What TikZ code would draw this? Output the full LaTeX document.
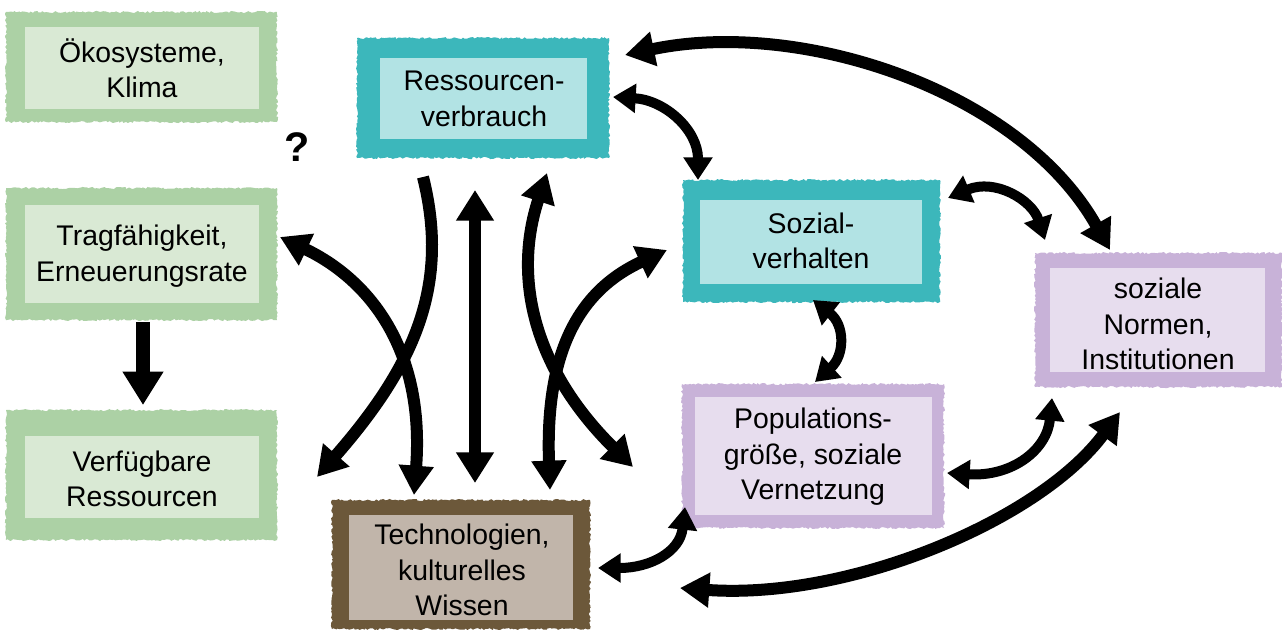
\documentclass[tikz,border=0pt]{standalone}
\usepackage{fontspec}
\setmainfont{Liberation Sans}
\usetikzlibrary{arrows.meta,fit,decorations.pathmorphing}

\definecolor{grOut}{HTML}{ACD1A5}
\definecolor{grIn}{HTML}{D9E9D4}
\definecolor{tlOut}{HTML}{3CB7BB}
\definecolor{tlIn}{HTML}{B2E3E4}
\definecolor{ppOut}{HTML}{C8B2D8}
\definecolor{ppIn}{HTML}{E7DDEE}
\definecolor{brOut}{HTML}{6C583A}
\definecolor{brIn}{HTML}{C1B5AA}

\tikzset{
  outerbox/.style={inner sep=0pt, fill=#1, decorate,
    decoration={random steps, segment length=1.5pt, amplitude=0.8pt}},
  innerbox/.style={inner sep=0pt, fill=#1},
  txt/.style={inner sep=0pt, font=\fontsize{21.3}{26.6}\selectfont,
    align=center, text=black},
  link/.style={line width=9pt, black,
    arrows={-Triangle[length=22pt, width=25pt]}},
  linkboth/.style={link, arrows={Triangle[length=22pt, width=25pt]-Triangle[length=22pt, width=25pt]}},
  linksmall/.style={line width=7.5pt, black,
    arrows={Triangle[length=17pt, width=21pt]-Triangle[length=17pt, width=21pt]}},
}

\begin{document}
\begin{tikzpicture}[x=0.75pt, y=-0.75pt]
\useasboundingbox (0,0) rectangle (1282,629);

% boxes: textured frame, inner panel, centred label
\node[outerbox=grOut, fit={(6,12)(277,122)}] (eco) {};
\node[innerbox=grIn, fit={(25,27)(259,109)}] (ecoIn) {};
\node[txt] (ecoT) at (142,68) {Ökosysteme,\\Klima};

\node[outerbox=grOut, fit={(6,188)(277,320)}] (trag) {};
\node[innerbox=grIn, fit={(25,205)(259,303)}] (tragIn) {};
\node[txt] (tragT) at (142,256) {Tragfähigkeit,\\Erneuerungsrate};

\node[outerbox=grOut, fit={(6,410)(277,540)}] (verf) {};
\node[innerbox=grIn, fit={(25,436)(259,518)}] (verfIn) {};
\node[txt] (verfT) at (142,479) {Verfügbare\\Ressourcen};

\node[outerbox=tlOut, fit={(357,38)(609,158)}] (ress) {};
\node[innerbox=tlIn, fit={(380,58)(587,139)}] (ressIn) {};
\node[txt] (ressT) at (484,99) {Ressourcen-\\verbrauch};

\node[outerbox=tlOut, fit={(683,180)(940,302)}] (sozv) {};
\node[innerbox=tlIn, fit={(700,200)(922,284)}] (sozvIn) {};
\node[txt] (sozvT) at (811,241) {Sozial-\\verhalten};

\node[outerbox=ppOut, fit={(682,384)(944,528)}] (pop) {};
\node[innerbox=ppIn, fit={(695,397)(932,515)}] (popIn) {};
\node[txt] (popT) at (813,457) {Populations-\\größe, soziale\\Vernetzung};

\node[outerbox=ppOut, fit={(1035,253)(1282,387)}] (norm) {};
\node[innerbox=ppIn, fit={(1050,268)(1265,372)}] (normIn) {};
\node[txt] (normT) at (1158,324) {soziale\\Normen,\\Institutionen};

\node[outerbox=brOut, fit={(332,500)(590,629)}] (tech) {};
\node[innerbox=brIn, fit={(349,515)(573,620)}] (techIn) {};
\node[txt] (techT) at (462,570) {Technologien,\\kulturelles\\Wissen};

\node[font=\bfseries\fontsize{31}{34}\selectfont] (q) at (297,147) {?};

% connector end points
\coordinate (tragS) at (143,322);
\coordinate (verfN) at (143,405);
\coordinate (midN) at (475,190);
\coordinate (midS) at (475,483);
\coordinate (tragE) at (280,237);
\coordinate (techNW) at (414,495);
\coordinate (ressSW) at (423,177);
\coordinate (verfNE) at (317,477);
\coordinate (ressSE) at (547,173);
\coordinate (popW) at (633,467);
\coordinate (sozvW) at (667,250);
\coordinate (techNE) at (550,490);
\coordinate (ressE1) at (625,55);
\coordinate (normN1) at (1110,250);
\coordinate (ressE2) at (613,97);
\coordinate (sozvN) at (698,180);
\coordinate (sozvE) at (948,198);
\coordinate (normN2) at (1045,240);
\coordinate (sozvS) at (813,300);
\coordinate (popN) at (815,382);
\coordinate (popE) at (947,473);
\coordinate (normS1) at (1052,398);
\coordinate (normS2) at (1120,412);
\coordinate (techE2) at (680,588);
\coordinate (popSW) at (685,507);
\coordinate (techE1) at (598,568);

% straight arrows
\draw[line width=11pt, black, arrows={-Triangle[length=25pt, width=29pt]}] (tragS) -- (verfN);
\draw[line width=9.5pt, black, arrows={Triangle[length=23pt, width=27pt]-Triangle[length=23pt, width=27pt]}] (midN) -- (midS);

% crossing arrows between the columns
\draw[linkboth] (tragE) .. controls (370,280) and (425,350) .. (techNW);
\draw[link] (ressSW) .. controls (450,285) and (415,365) .. (verfNE);
\draw[linkboth] (ressSE) .. controls (512,280) and (535,370) .. (popW);
\draw[linkboth] (sozvW) .. controls (580,290) and (545,350) .. (techNE);

% arcs around the social boxes
\draw[linkboth] (ressE1) .. controls (800,18) and (1020,90) .. (normN1);
\draw[linksmall] (ressE2) .. controls (665,100) and (698,130) .. (sozvN);
\draw[linksmall] (sozvE) .. controls (995,178) and (1032,200) .. (normN2);
\draw[linksmall] (sozvS) .. controls (845,325) and (845,355) .. (popN);
\draw[linksmall] (popE) .. controls (1012,477) and (1047,450) .. (normS1);
\draw[linkboth] (techE2) .. controls (850,600) and (1040,520) .. (normS2);
\draw[linksmall] (popSW) .. controls (680,552) and (650,568) .. (techE1);
\end{tikzpicture}
\end{document}
